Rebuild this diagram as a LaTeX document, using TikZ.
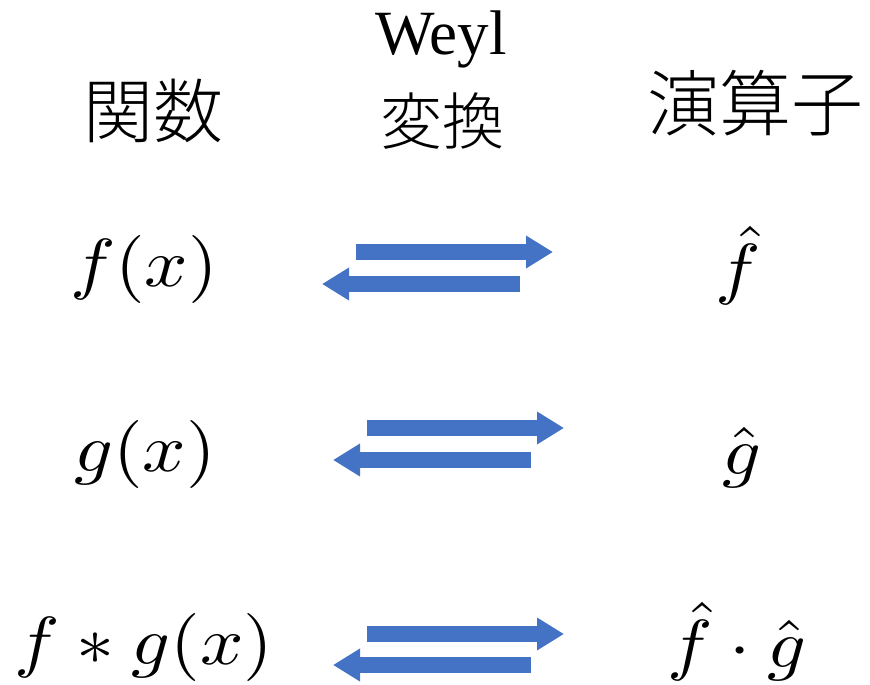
\documentclass[tikz,border=0pt]{standalone}
\usepackage{graphicx}
\usepackage{fontspec}
\usetikzlibrary{arrows.meta}
\setmainfont{Liberation Serif}
\newfontfamily\cjk{Noto Sans CJK JP Light}
\definecolor{arrowblue}{HTML}{4472C4}
\newcommand{\bigmath}[1]{\scalebox{7.6}[6.8]{$#1$}}
\tikzset{
  blockarrow/.style={draw=arrowblue, line width=16pt, line cap=butt,
    -{Triangle[width=31pt,length=27pt]}},
  mathlbl/.style={anchor=base, inner sep=0pt},
  cjklbl/.style={anchor=base, inner sep=0pt},
}
\begin{document}
\begin{tikzpicture}[x=1pt,y=-1pt]
\useasboundingbox (0,0) rectangle (870,685);
% headings
\node[cjklbl, font=\cjk\fontsize{70}{80}\selectfont] (kansu) at (153,137) {関数};
\node[anchor=base, inner sep=0pt, font=\fontsize{63}{70}\selectfont] (weyl) at (441,55) {Weyl};
\node[cjklbl, font=\cjk\fontsize{62}{70}\selectfont] (henkan) at (442,144) {変換};
\node[cjklbl, font=\cjk\fontsize{72}{80}\selectfont] (enzan) at (755,130) {演算子};
% left column
\node[mathlbl] (fx) at (144,286) {\bigmath{f(x)}};
\node[mathlbl] (gx) at (145,471) {\bigmath{g(x)}};
\node[mathlbl] (fgx) at (144,664) {\bigmath{f \ast g(x)}};
% right column
\node[mathlbl] (fh) at (738,291) {\bigmath{\hat{f}}};
\node[mathlbl] (gh) at (742,474) {\bigmath{\hat{g}}};
\node[mathlbl] (fgh) at (737,667) {\bigmath{\hat{f}\cdot\hat{g}}};
% arrow end points
\coordinate (a1s) at (356,252); \coordinate (a1e) at (553,252);
\coordinate (b1s) at (520,284); \coordinate (b1e) at (322,284);
\coordinate (a2s) at (367,428); \coordinate (a2e) at (564,428);
\coordinate (b2s) at (531,460); \coordinate (b2e) at (333,460);
\coordinate (a3s) at (367,634); \coordinate (a3e) at (564,634);
\coordinate (b3s) at (531,665); \coordinate (b3e) at (333,665);
\draw[blockarrow] (a1s) -- (a1e);
\draw[blockarrow] (b1s) -- (b1e);
\draw[blockarrow] (a2s) -- (a2e);
\draw[blockarrow] (b2s) -- (b2e);
\draw[blockarrow] (a3s) -- (a3e);
\draw[blockarrow] (b3s) -- (b3e);
\end{tikzpicture}
\end{document}
